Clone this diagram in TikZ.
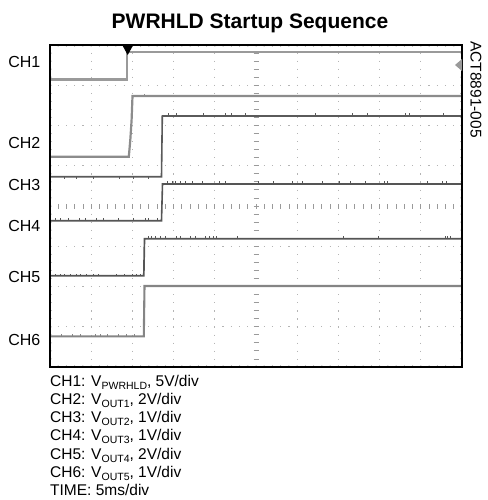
\documentclass[tikz,border=0pt]{standalone}
\usepackage{fontspec}
\setmainfont{Liberation Sans}
\definecolor{gridc}{HTML}{B4B4B4}
\definecolor{tickc}{HTML}{9A9A9A}
\definecolor{cha}{HTML}{9A9A9A}
\definecolor{chb}{HTML}{8C8C8C}
\definecolor{chc}{HTML}{5A5A5A}
\definecolor{chd}{HTML}{555555}
\definecolor{che}{HTML}{555555}
\definecolor{chf}{HTML}{858585}
\begin{document}
\begin{tikzpicture}[x=1pt,y=-1pt,
  lbl/.style={inner sep=0pt,font=\fontsize{16}{16}\selectfont},
  leg/.style={inner sep=0pt,anchor=base west,font=\fontsize{15.5}{15.5}\selectfont},
  vgrid/.style={gridc,line width=1.1pt,dash pattern=on 1.1pt off 6.96pt,dash phase=0.55pt},
  hgrid/.style={gridc,line width=1.1pt,dash pattern=on 1.1pt off 7.14pt,dash phase=0.55pt},
  trace/.style={line width=#1,line join=miter},
  noise/.style={line width=1pt}]
\useasboundingbox (0,0) rectangle (487,500);
% grid
\foreach \k in {1,2,3,4,6,7,8,9}{
  \draw[vgrid] ({50+41.2*\k},45) -- ({50+41.2*\k},367);}
\foreach \j in {1,2,3,5,6,7}{
  \draw[hgrid] (50,{45+40.25*\j}) -- (462,{45+40.25*\j});}
% center axes with ticks
\foreach \m in {1,...,39}{
  \draw[tickc,line width=0.9pt] (253.5,{45+8.05*\m}) -- (258.5,{45+8.05*\m});}
\foreach \m in {1,...,49}{
  \draw[tickc,line width=0.9pt] ({50+8.24*\m},204) -- ({50+8.24*\m},208.5);}
% border ticks
\foreach \m in {1,...,49}{
  \fill[gridc] ({50+8.24*\m},46.5) circle (0.5pt);
  \fill[gridc] ({50+8.24*\m},365.5) circle (0.5pt);}
\foreach \m in {1,...,39}{
  \fill[gridc] (51.5,{45+8.05*\m}) circle (0.5pt);
  \fill[gridc] (460.5,{45+8.05*\m}) circle (0.5pt);}
% traces
\draw[cha,trace=2.2pt] (50,79.5) -- (127.3,79.5) -- (127.3,51.7) -- (462,51.7);
\draw[chb,trace=2.2pt] (50,156.7) -- (128.8,156.7) -- (130.3,140) -- (131.6,120) -- (132.5,96) -- (462,96);
\draw[chc,trace=1.6pt] (50,176.7) -- (161.5,176.7) -- (162.3,116) -- (462,116);
\draw[chd,trace=1.6pt] (50,220.7) -- (161.5,220.7) -- (162.5,184) -- (462,184);
\draw[che,trace=1.7pt] (50,275.7) -- (143.8,275.7) -- (144.5,238.7) -- (462,238.7);
\draw[chf,trace=2.1pt] (50,336.3) -- (143.8,336.3) -- (144.5,286) -- (462,286);
% noise ticks
\foreach \x in {168,176,203,225,231,245,315,352,367,405,409,443}{
  \draw[chc,noise] (\x,115.7) -- (\x,113.3);}
\foreach \x in {64,76,93,119,133,148}{
  \draw[chc,noise] (\x,176.7) -- (\x,179);}
\foreach \x in {167,172,175,180,185,192,202,219,225,258,273,292,302,322,339,350,365,384,387,427,442,446}{
  \draw[chd,noise] (\x,183.7) -- (\x,181.3);}
\foreach \x in {55,60,68,79,85,96,103,118,133,145,148,157}{
  \draw[chd,noise] (\x,220.5) -- (\x,218.3);}
\foreach \x in {148,151,155,160,165,176,180,190,195,205,209,213,216,237,343,378,445,447,450}{
  \draw[che,noise] (\x,238.5) -- (\x,236.3);}
\foreach \x in {55,60,64,70,76,80,86,93,98,116,124,132,136,140}{
  \draw[che,noise] (\x,275.5) -- (\x,273.5);}
\foreach \x in {61,72,80,95,100,107,118,126,134}{
  \draw[chf,noise] (\x,336.3) -- (\x,334.3);}
\draw[chb,noise] (144,96) -- (144,93.8);
% plot frame
\draw[black,line width=1.4pt] (50,45) rectangle (462,367);
% markers
\fill[black] (122.5,45.5) -- (133,45.5) -- (127.7,55) -- cycle;
\fill[cha] (462,59) -- (462,71) -- (455,65) -- cycle;
% title
\node[inner sep=0pt,anchor=base,font=\bfseries\fontsize{21}{21}\selectfont] (title) at (250,28.3) {PWRHLD Startup Sequence};
% side id
\node[inner sep=0pt,anchor=west,rotate=-90,font=\fontsize{15.5}{15.5}\selectfont] (figid) at (476,41) {ACT8891-005};
% channel labels
\node[lbl,anchor=east] (l1) at (40.5,62) {CH1};
\node[lbl,anchor=east] (l2) at (40.5,143) {CH2};
\node[lbl,anchor=east] (l3) at (40.5,185) {CH3};
\node[lbl,anchor=east] (l4) at (40.5,226) {CH4};
\node[lbl,anchor=east] (l5) at (40.5,277) {CH5};
\node[lbl,anchor=east] (l6) at (40.5,340) {CH6};
% legend
\newcommand{\subx}[1]{\raisebox{-3pt}{\fontsize{10.5}{10.5}\selectfont #1}}
\node[leg] (g1) at (50,386) {CH1: V\subx{PWRHLD}, 5V/div};
\node[leg] (g2) at (50,404.3) {CH2: V\subx{OUT1}, 2V/div};
\node[leg] (g3) at (50,422.6) {CH3: V\subx{OUT2}, 1V/div};
\node[leg] (g4) at (50,440.9) {CH4: V\subx{OUT3}, 1V/div};
\node[leg] (g5) at (50,459.2) {CH5: V\subx{OUT4}, 2V/div};
\node[leg] (g6) at (50,477.5) {CH6: V\subx{OUT5}, 1V/div};
\node[leg] (g7) at (50,495.8) {TIME: 5ms/div};
\end{tikzpicture}
\end{document}
